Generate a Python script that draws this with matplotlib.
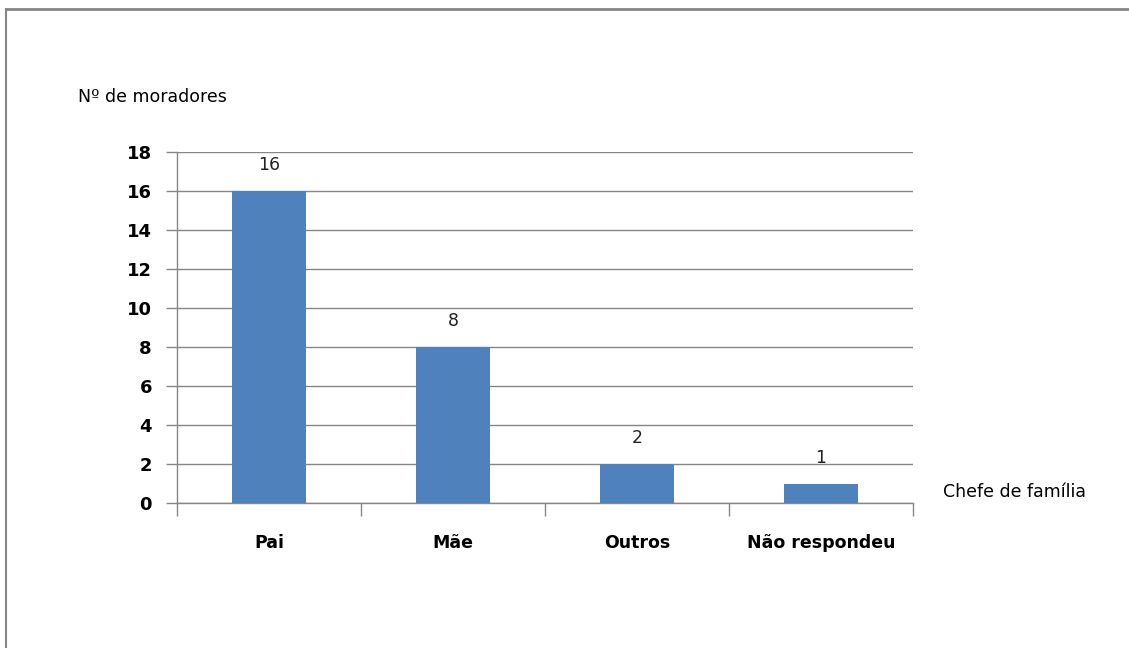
import matplotlib
matplotlib.use("Agg")
import matplotlib.pyplot as plt
from matplotlib.lines import Line2D

categories = ["Pai", "Mãe", "Outros", "Não respondeu"]
values = [16, 8, 2, 1]
yticks = [0, 2, 4, 6, 8, 10, 12, 14, 16, 18]

plt.rcParams['font.family'] = ['DejaVu Sans']

fig = plt.figure(figsize=(11.29, 6.48), dpi=100)
ax = fig.add_axes([177/1129, 1-503/648, (913-177)/1129, (503-152)/648])

x = list(range(len(categories)))
bars = ax.bar(x, values, width=0.4, color="#4F81BD", zorder=3)
ax.set_xlim(-0.5, len(categories) - 0.5)
ax.set_ylim(0, 18)
ax.set_yticks(yticks)
ax.set_yticklabels([str(v) for v in yticks], fontsize=13, fontweight='bold')
ax.yaxis.grid(True, color="#868686", linewidth=1, zorder=0)
ax.tick_params(axis='y', length=8, color="#868686", width=1, pad=10)

ax.set_xticks(x)
ax.set_xticklabels(categories, fontsize=12.5, fontweight='bold')
ax.tick_params(axis='x', which='major', length=0, pad=22)
ax.set_xticks([i - 0.5 for i in range(len(categories) + 1)], minor=True)
ax.tick_params(axis='x', which='minor', length=9, color="#868686", width=1)

for s in ['top', 'right']:
    ax.spines[s].set_visible(False)
for s in ['left', 'bottom']:
    ax.spines[s].set_color("#868686")
    ax.spines[s].set_linewidth(1)

for xi, v in zip(x, values):
    ax.annotate(str(v), (xi, v), xytext=(0, 12), textcoords='offset points',
                ha='center', va='bottom', fontsize=12.5, color='#222222')

fig.text(78/1129, 1-97/648, "Nº de moradores", fontsize=12.5, ha='left', va='center')
fig.text(943/1129, 1-492/648, "Chefe de família", fontsize=12.5, ha='left', va='center')

# figure frame (top and left)
fig.add_artist(Line2D([6/1129, 1], [1-9/648, 1-9/648], color="#868686", linewidth=2, transform=fig.transFigure))
fig.add_artist(Line2D([6/1129, 6/1129], [0, 1-9/648], color="#868686", linewidth=1.5, transform=fig.transFigure))

fig.savefig("out.png", dpi=100)
